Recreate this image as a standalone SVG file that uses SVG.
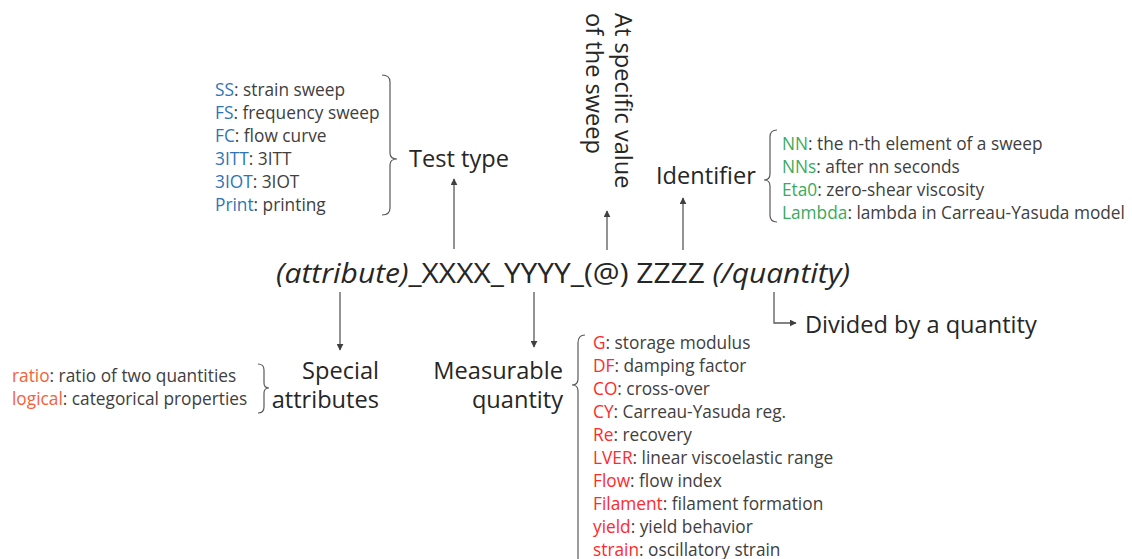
<svg xmlns="http://www.w3.org/2000/svg" width="1132" height="559" viewBox="0 0 1132 559">
<style>
text{font-family:"Open Sans","Noto Sans","DejaVu Sans",sans-serif;fill:#404040}
.h{font-size:23.6px;fill:#262626}
.l{font-size:17.3px}
.main{font-size:28px;fill:#262626}
.b{fill:#2E75B6}
.g{fill:#3AAA5C}
.r{fill:#FF2A2A}
.o{fill:#F4623A}
.it{font-style:italic}
.ln{fill:none;stroke:#595959;stroke-width:1.3}
.br{fill:none;stroke:#595959;stroke-width:1.2}
</style>
<defs>
<marker id="ah" viewBox="0 0 10 10" refX="9" refY="5" markerWidth="7" markerHeight="7" markerUnits="userSpaceOnUse" orient="auto"><path d="M0,0 L10,5 L0,10 z" fill="#404040"/></marker>
</defs>
<rect width="1132" height="559" fill="#ffffff"/>

<g id="formula">
<text class="main" x="276" y="283" textLength="574" lengthAdjust="spacingAndGlyphs"><tspan class="it">(attribute)</tspan>_XXXX_YYYY_(@) ZZZZ <tspan class="it">(/quantity)</tspan></text>
</g>

<g id="test-type">
<text class="l" x="215" y="96"><tspan class="b">SS</tspan>: strain sweep</text>
<text class="l" x="215" y="119"><tspan class="b">FS</tspan>: frequency sweep</text>
<text class="l" x="215" y="142"><tspan class="b">FC</tspan>: flow curve</text>
<text class="l" x="215" y="165"><tspan class="b">3ITT</tspan>: 3ITT</text>
<text class="l" x="215" y="188"><tspan class="b">3IOT</tspan>: 3IOT</text>
<text class="l" x="215" y="211"><tspan class="b">Print</tspan>: printing</text>
<path class="br" d="M382,75 Q390,75 390,82 L390,153 Q390,159 397,159 Q390,159 390,165 L390,208 Q390,215 382,215"/>
<text class="h" x="409" y="167">Test type</text>
</g>

<g id="specific-value">
<text class="h" transform="translate(615,13) rotate(90)">At specific value</text>
<text class="h" transform="translate(586,13) rotate(90)">of the sweep</text>
</g>

<g id="identifier">
<text class="h" x="656" y="184">Identifier</text>
<path class="br" d="M777,130 Q770,130 770,137 L770,174 Q770,180 764,180 Q770,180 770,186 L770,215 Q770,222 777,222"/>
<text class="l" x="782" y="150"><tspan class="g">NN</tspan>: the n-th element of a sweep</text>
<text class="l" x="782" y="173"><tspan class="g">NNs</tspan>: after nn seconds</text>
<text class="l" x="782" y="196"><tspan class="g">Eta0</tspan>: zero-shear viscosity</text>
<text class="l" x="782" y="219"><tspan class="g">Lambda</tspan>: lambda in Carreau-Yasuda model</text>
</g>

<g id="special-attributes">
<text class="l" x="12" y="382"><tspan class="o">ratio</tspan>: ratio of two quantities</text>
<text class="l" x="12" y="405"><tspan class="o">logical</tspan>: categorical properties</text>
<path class="br" d="M258,364 Q264,364 264,370 L264,383 Q264,388 269,388 Q264,388 264,393 L264,407 Q264,413 258,413"/>
<text class="h" x="379" y="379" text-anchor="end">Special</text>
<text class="h" x="379" y="408" text-anchor="end">attributes</text>
</g>

<g id="measurable-quantity">
<text class="h" x="563" y="379" text-anchor="end">Measurable</text>
<text class="h" x="563" y="408" text-anchor="end">quantity</text>
<path class="br" d="M585,335 Q578,335 578,343 L578,379 Q578,385 572,385 Q578,385 578,391 L578,570"/>
<text class="l" x="593" y="349"><tspan class="r">G</tspan>: storage modulus</text>
<text class="l" x="593" y="372"><tspan class="r">DF</tspan>: damping factor</text>
<text class="l" x="593" y="395"><tspan class="r">CO</tspan>: cross-over</text>
<text class="l" x="593" y="418"><tspan class="r">CY</tspan>: Carreau-Yasuda reg.</text>
<text class="l" x="593" y="441"><tspan class="r">Re</tspan>: recovery</text>
<text class="l" x="593" y="464"><tspan class="r">LVER</tspan>: linear viscoelastic range</text>
<text class="l" x="593" y="487"><tspan class="r">Flow</tspan>: flow index</text>
<text class="l" x="593" y="510"><tspan class="r">Filament</tspan>: filament formation</text>
<text class="l" x="593" y="533"><tspan class="r">yield</tspan>: yield behavior</text>
<text class="l" x="593" y="556"><tspan class="r">strain</tspan>: oscillatory strain</text>
</g>

<g id="divided">
<text class="h" x="805" y="333">Divided by a quantity</text>
</g>

<g id="connectors">
<line class="ln" x1="454" y1="249" x2="454" y2="179" marker-end="url(#ah)"/>
<line class="ln" x1="607" y1="250" x2="607" y2="211" marker-end="url(#ah)"/>
<line class="ln" x1="683" y1="250" x2="683" y2="198" marker-end="url(#ah)"/>
<line class="ln" x1="340" y1="292" x2="340" y2="350" marker-end="url(#ah)"/>
<line class="ln" x1="534" y1="292" x2="534" y2="347" marker-end="url(#ah)"/>
<polyline class="ln" points="774,292 774,323 796,323" marker-end="url(#ah)"/>
</g>
</svg>
